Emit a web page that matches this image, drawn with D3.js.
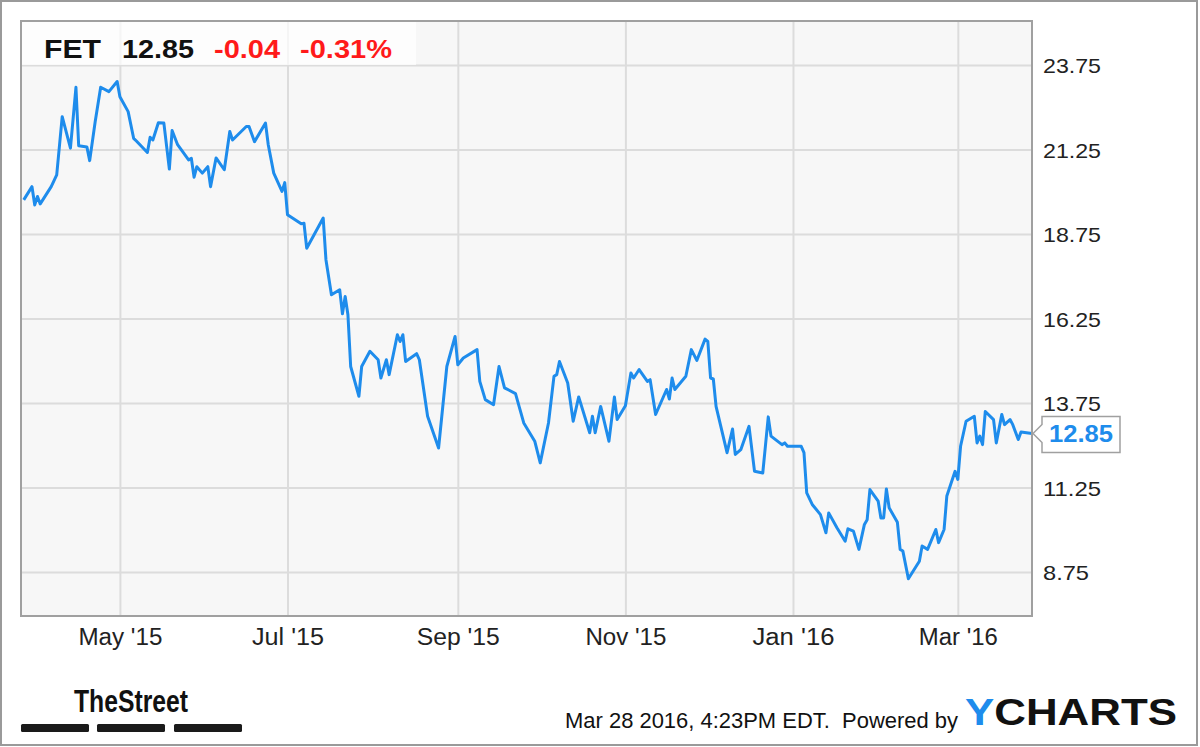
<!DOCTYPE html>
<html><head><meta charset="utf-8">
<script src="https://cdn.jsdelivr.net/npm/d3@7/dist/d3.min.js"></script>
<style>
html,body{margin:0;padding:0;background:#fff;}
svg{display:block;}
</style></head>
<body>
<svg id="chart" width="1200" height="747"></svg>
<script>
const dates = ["2015-03-27","2015-03-30","2015-03-31","2015-04-01","2015-04-02","2015-04-06","2015-04-08","2015-04-10","2015-04-13","2015-04-15","2015-04-16","2015-04-19","2015-04-20","2015-04-22","2015-04-24","2015-04-27","2015-04-30","2015-05-01","2015-05-04","2015-05-06","2015-05-07","2015-05-11","2015-05-12","2015-05-13","2015-05-15","2015-05-17","2015-05-19","2015-05-20","2015-05-22","2015-05-26","2015-05-27","2015-05-28","2015-05-29","2015-05-31","2015-06-02","2015-06-03","2015-06-05","2015-06-08","2015-06-10","2015-06-11","2015-06-16","2015-06-17","2015-06-19","2015-06-23","2015-06-24","2015-06-26","2015-06-29","2015-06-30","2015-07-01","2015-07-06","2015-07-07","2015-07-08","2015-07-14","2015-07-15","2015-07-17","2015-07-20","2015-07-21","2015-07-22","2015-07-23","2015-07-24","2015-07-27","2015-07-28","2015-07-31","2015-08-03","2015-08-04","2015-08-06","2015-08-07","2015-08-10","2015-08-11","2015-08-12","2015-08-13","2015-08-17","2015-08-18","2015-08-21","2015-08-25","2015-08-28","2015-08-31","2015-09-01","2015-09-03","2015-09-08","2015-09-09","2015-09-11","2015-09-14","2015-09-16","2015-09-18","2015-09-22","2015-09-25","2015-09-29","2015-10-01","2015-10-04","2015-10-06","2015-10-07","2015-10-08","2015-10-11","2015-10-13","2015-10-15","2015-10-19","2015-10-20","2015-10-21","2015-10-23","2015-10-26","2015-10-28","2015-10-29","2015-11-01","2015-11-03","2015-11-04","2015-11-06","2015-11-09","2015-11-10","2015-11-12","2015-11-16","2015-11-17","2015-11-18","2015-11-19","2015-11-23","2015-11-25","2015-11-27","2015-11-30","2015-12-01","2015-12-02","2015-12-03","2015-12-04","2015-12-08","2015-12-10","2015-12-11","2015-12-13","2015-12-16","2015-12-18","2015-12-21","2015-12-23","2015-12-24","2015-12-28","2015-12-29","2015-12-30","2016-01-04","2016-01-05","2016-01-06","2016-01-08","2016-01-11","2016-01-13","2016-01-14","2016-01-17","2016-01-20","2016-01-21","2016-01-23","2016-01-25","2016-01-27","2016-01-28","2016-01-29","2016-02-01","2016-02-02","2016-02-03","2016-02-04","2016-02-05","2016-02-08","2016-02-09","2016-02-10","2016-02-12","2016-02-16","2016-02-17","2016-02-19","2016-02-22","2016-02-23","2016-02-25","2016-02-26","2016-02-29","2016-03-01","2016-03-02","2016-03-04","2016-03-07","2016-03-08","2016-03-09","2016-03-10","2016-03-11","2016-03-14","2016-03-15","2016-03-17","2016-03-18","2016-03-20","2016-03-21","2016-03-23","2016-03-24","2016-03-28"];
const closes = [19.76,20.15,19.61,19.86,19.64,20.15,20.50,22.22,21.29,23.09,21.36,21.32,20.92,22.07,23.09,22.96,23.26,22.81,22.37,21.58,21.50,21.16,21.61,21.53,22.04,22.03,20.67,21.81,21.39,20.94,20.99,20.43,20.74,20.55,20.74,20.15,21.00,20.65,21.78,21.53,21.93,21.93,21.48,22.03,21.39,20.55,20.01,20.27,19.32,19.05,19.07,18.33,19.22,17.99,16.95,17.10,16.39,16.90,16.36,14.83,13.95,14.83,15.28,15.03,14.49,15.03,14.59,15.77,15.57,15.77,14.98,15.21,15.03,13.36,12.42,14.83,15.72,14.88,15.08,15.33,14.39,13.85,13.70,14.83,14.20,14.03,13.16,12.62,11.98,13.16,14.54,14.59,14.98,14.34,13.21,13.93,12.87,13.36,12.87,13.65,12.62,13.93,13.26,13.67,14.64,14.49,14.74,14.39,14.44,13.41,14.15,13.87,14.49,14.15,14.54,15.33,15.01,15.64,15.57,14.49,14.46,13.65,12.28,12.98,12.23,12.37,13.06,11.73,11.68,13.34,12.77,12.52,12.57,12.47,12.47,12.28,11.09,10.75,10.45,9.91,10.50,10.06,9.66,10.03,9.96,9.42,10.16,10.30,11.19,10.85,10.35,10.35,11.21,10.65,10.22,9.42,9.37,8.55,9.07,9.52,9.42,10.01,9.62,10.01,11.00,11.73,11.49,12.47,13.21,13.36,12.57,12.77,12.52,13.50,13.26,12.57,13.41,13.11,13.26,13.11,12.67,12.89,12.85];
const yTicks = [8.75, 11.25, 13.75, 16.25, 18.75, 21.25, 23.75];
const xTickLabels = ["May '15","Jul '15","Sep '15","Nov '15","Jan '16","Mar '16"];
const ticker = "FET";
const lastPrice = "12.85";
const change = "-0.04";
const changePct = "-0.31%";
const stamp = "Mar 28 2016, 4:23PM EDT.  Powered by";

const parse = d3.timeParse("%Y-%m-%d");
const data = dates.map((d,i)=>({date: parse(d), v: closes[i]}));

const svg = d3.select("#chart");
const L = 21, T = 21, R = 1032, B = 616;
const SANS = "'Liberation Sans', Arial, sans-serif";

// outer frame
svg.append("rect").attr("x",1).attr("y",1).attr("width",1196).attr("height",744)
  .attr("fill","#fff").attr("stroke","#9a9a9a").attr("stroke-width",2);

const x = d3.scaleTime().domain([new Date(2015,2,26), new Date(2016,2,28)]).range([L, R]);
const y = d3.scaleLinear().domain([7.45, 25.05]).range([B, T]);

// plot background
svg.append("rect").attr("x",L).attr("y",T).attr("width",R-L).attr("height",B-T).attr("fill","#f7f7f7");

// gridlines
const xTicks = d3.timeMonth.every(2).range(new Date(2015,3,15), new Date(2016,2,28));
const gx = svg.append("g").attr("transform",`translate(0,${B})`)
  .call(d3.axisBottom(x).tickValues(xTicks).tickSize(-(B-T)).tickFormat(""));
gx.select(".domain").remove();
gx.selectAll("line").attr("stroke","#dcdcdc").attr("stroke-width",2);

const gy = svg.append("g").attr("transform",`translate(${L},0)`)
  .call(d3.axisRight(y).tickValues(yTicks).tickSize(R-L).tickFormat(""));
gy.select(".domain").remove();
gy.selectAll("line").attr("stroke","#dcdcdc").attr("stroke-width",2);

// price line
const line = d3.line().x(d=>x(d.date)).y(d=>y(d.v));
svg.append("path").datum(data).attr("d",line).attr("fill","none")
  .attr("stroke","#1e8cec").attr("stroke-width",3).attr("stroke-linejoin","round");

// header box
svg.append("rect").attr("x",L).attr("y",T).attr("width",395).attr("height",44)
  .attr("fill","#ffffff").attr("opacity",0.7);
const hdr = svg.append("g").attr("font-family",SANS)
  .attr("font-weight","bold").attr("font-size",26);
[[ticker,44,57,"#111"],[lastPrice,122,72,"#111"],[change,214,66,"#ff1a1a"],[changePct,300,92,"#ff1a1a"]]
  .forEach(h=>{
    hdr.append("text").attr("x",h[1]).attr("y",58).attr("fill",h[3])
      .attr("textLength",h[2]).attr("lengthAdjust","spacingAndGlyphs").text(h[0]);
  });

// plot border
svg.append("rect").attr("x",L).attr("y",T).attr("width",R-L).attr("height",B-T)
  .attr("fill","none").attr("stroke","#a0a0a0").attr("stroke-width",2);

// y axis labels (right)
const ya = svg.append("g").attr("transform",`translate(${R},0)`)
  .call(d3.axisRight(y).tickValues(yTicks).tickSize(0).tickPadding(11).tickFormat(d3.format(".2f")));
ya.select(".domain").remove();
ya.selectAll("text").attr("font-family",SANS)
  .attr("font-size",21).attr("fill","#222").attr("dy","0.36em")
  .attr("textLength",function(){ return this.textContent.length===5 ? 58 : 46; })
  .attr("lengthAdjust","spacingAndGlyphs");

// x axis labels
const xW = [84,72,83,81,82,79];
const xa = svg.append("g").attr("transform",`translate(0,${B})`)
  .call(d3.axisBottom(x).tickValues(xTicks).tickSize(0).tickPadding(13)
    .tickFormat((d,i)=>xTickLabels[i]));
xa.select(".domain").remove();
xa.selectAll("text").attr("font-family",SANS)
  .attr("font-size",23).attr("fill","#222").attr("dy","0.71em")
  .attr("textLength",(d,i)=>xW[i]).attr("lengthAdjust","spacingAndGlyphs");

// last price callout
const last = data[data.length-1];
const cy = y(last.v);
const cx = R + 1;
svg.append("path")
  .attr("d",`M${cx},${cy} L${cx+9},${cy-9} L${cx+9},${cy-17} L${cx+87},${cy-17} L${cx+87},${cy+19} L${cx+9},${cy+19} L${cx+9},${cy+9} Z`)
  .attr("fill","#fff").attr("stroke","#a0a0a0").attr("stroke-width",1.5);
svg.append("text").attr("x",cx+48).attr("y",cy+9).attr("text-anchor","middle")
  .attr("font-family",SANS).attr("font-weight","bold")
  .attr("font-size",23).attr("fill","#1e8cec").attr("textLength",64)
  .attr("lengthAdjust","spacingAndGlyphs").text(lastPrice);

// TheStreet logo
svg.append("text").attr("x",74).attr("y",712)
  .attr("font-family",SANS)
  .attr("font-weight","bold").attr("font-size",32).attr("fill","#111")
  .attr("textLength",114).attr("lengthAdjust","spacingAndGlyphs").text("TheStreet");
[[21,89],[97,165],[174,242]].forEach(b=>{
  svg.append("rect").attr("x",b[0]).attr("y",724).attr("width",b[1]-b[0]).attr("height",8)
    .attr("rx",1.5).attr("fill","#1a1a1a");
});

// footer
svg.append("text").attr("x",565).attr("y",728)
  .attr("font-family",SANS)
  .attr("font-size",22).attr("fill","#111").attr("textLength",393).attr("lengthAdjust","spacingAndGlyphs")
  .attr("xml:space","preserve").text(stamp);
const yc = svg.append("text").attr("x",965).attr("y",725)
  .attr("font-family",SANS).attr("font-weight","bold")
  .attr("font-size",37).attr("textLength",212).attr("lengthAdjust","spacingAndGlyphs");
yc.append("tspan").attr("fill","#1e8cec").text("Y");
yc.append("tspan").attr("fill","#111").text("CHARTS");
</script>
</body></html>
